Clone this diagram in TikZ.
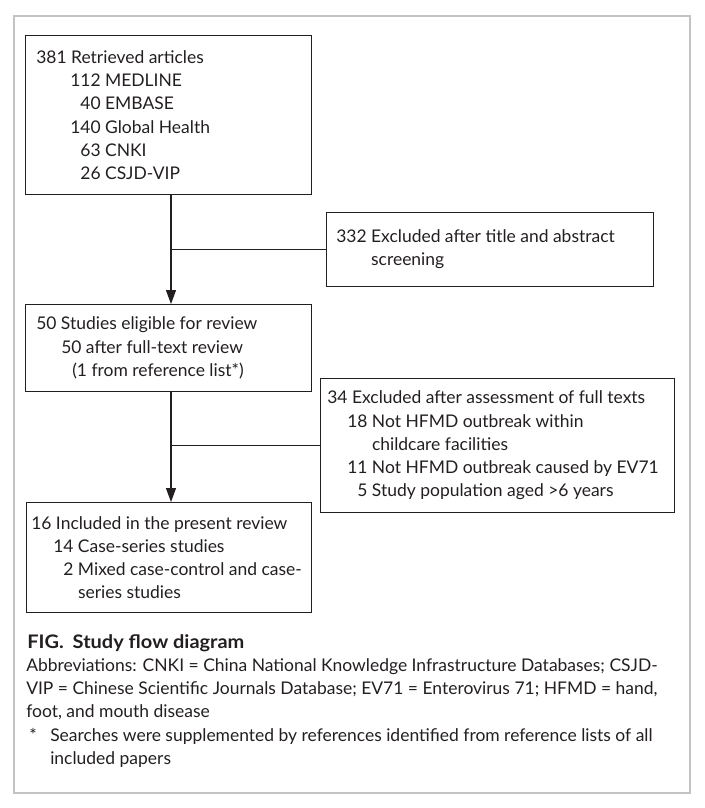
\documentclass[tikz,border=0pt]{standalone}
\usepackage{fontspec}
\setmainfont{Lato}
\usepackage{calc}
\usetikzlibrary{arrows.meta}
\definecolor{framegray}{RGB}{195,195,195}
\definecolor{ink}{RGB}{35,31,32}
\newcommand\rn[2]{\makebox[\widthof{#1}][r]{#2}}
\begin{document}
\begin{tikzpicture}[x=0.75pt,y=-0.75pt,
  flowbox/.style={draw=ink, line width=0.8pt, rectangle, anchor=north west, inner sep=0pt},
  boxtext/.style={align=left, inner sep=0pt, text=ink, font=\fontsize{13.1}{17.4}\selectfont},
  flowline/.style={draw=ink, line width=0.8pt},
  flowarrow/.style={flowline, -{Triangle[length=10.5pt,width=7.5pt]}},
  captext/.style={anchor=base west, inner sep=0pt, text=ink, font=\fontsize{13.1}{17.5}\selectfont}]
\useasboundingbox (0,0) rectangle (705,808);
\draw[framegray, line width=1.5pt] (14,16) rectangle (690,793);

% boxes
\node[flowbox, minimum width=214.5pt, minimum height=119.25pt] (b1) at (25,35) {};
\node[boxtext, right=8.25pt] (b1t) at (b1.west) {381 Retrieved articles\\
\hspace*{25.5pt}112 MEDLINE\\
\hspace*{25.5pt}\rn{112}{40} EMBASE\\
\hspace*{25.5pt}140 Global Health\\
\hspace*{25.5pt}\rn{112}{63} CNKI\\
\hspace*{25.5pt}\rn{112}{26} CSJD-VIP};

\node[flowbox, minimum width=245.25pt, minimum height=55.5pt] (b2) at (326,212) {};
\node[boxtext, right=7.5pt] (b2t) at (b2.west) {332 Excluded after title and abstract\\
\hphantom{332\ }screening};

\node[flowbox, minimum width=214.5pt, minimum height=65.25pt] (b3) at (25,304) {};
\node[boxtext, right=8.25pt] (b3t) at (b3.west) {50 Studies eligible for review\\
\hspace*{18.75pt}50 after full-text review\\
\hspace*{27pt}(1 from reference list*)};

\node[flowbox, minimum width=265.5pt, minimum height=100.5pt] (b4) at (320,378) {};
\node[boxtext, right=5.25pt] (b4t) at (b4.west) {34 Excluded after assessment of full texts\\
\hspace*{15pt}18 Not HFMD outbreak within\\
\hspace*{15pt}\hphantom{18\ }childcare facilities\\
\hspace*{15pt}11 Not HFMD outbreak caused by EV71\\
\hspace*{15pt}\rn{18}{5} Study population aged >6 years};

\node[flowbox, minimum width=213.75pt, minimum height=82.5pt] (b5) at (26,502) {};
\node[boxtext, right=3.75pt] (b5t) at (b5.west) {16 Included in the present review\\
\hspace*{16.5pt}14 Case-series studies\\
\hspace*{16.5pt}\rn{14}{2} Mixed case-control and case-\\
\hspace*{16.5pt}\hphantom{14\ }series studies};

% connectors
\coordinate (spine) at (171,0);
\draw[flowarrow] (b1.south -| spine) -- (b3.north -| spine);
\draw[flowline] (b2.west) -- (b2.west -| spine);
\draw[flowarrow] (b3.south -| spine) -- (b5.north -| spine);
\draw[flowline] (b4.west) -- (b4.west -| spine);

% caption
\node[captext, font=\fontsize{14}{17.5}\selectfont\bfseries] (fig) at (27,648) {\scalebox{1.07}[1]{FIG.\hspace{0.45em}Study flow diagram}};
\node[captext] (ab1) at (26,671) {Abbreviations: CNKI = China National Knowledge Infrastructure Databases; CSJD-};
\node[captext] (ab2) at (26,694) {VIP = Chinese Scientific Journals Database; EV71 = Enterovirus 71; HFMD = hand,};
\node[captext] (ab3) at (26,717.5) {foot, and mouth disease};
\node[captext] (star) at (29,741) {*};
\node[captext] (fn1) at (50,741) {Searches were supplemented by references identified from reference lists of all};
\node[captext] (fn2) at (50,764) {included papers};
\end{tikzpicture}
\end{document}
